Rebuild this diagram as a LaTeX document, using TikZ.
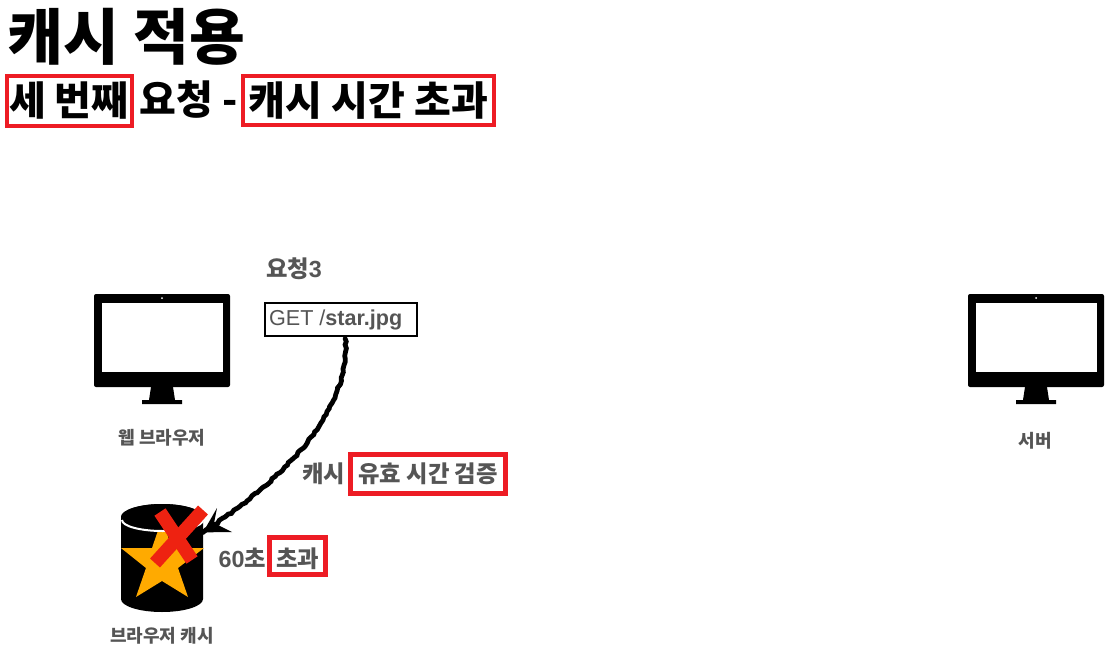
\documentclass[tikz,border=0pt]{standalone}
\usepackage{fontspec}
\usetikzlibrary{decorations.pathmorphing}
\setmainfont{Liberation Sans}
\newfontfamily\kr{Noto Sans CJK KR}
\definecolor{redbox}{HTML}{ED1C24}
\definecolor{grayt}{HTML}{555555}
\definecolor{starc}{HTML}{FFAA00}
\definecolor{crossc}{HTML}{EE2211}
\tikzset{
 txt/.style={inner sep=0pt,outer sep=0pt,anchor=center},
 head1/.style={txt,font=\kr\bfseries\fontsize{45.5}{50}\selectfont,text=black},
 head2/.style={txt,font=\kr\bfseries\fontsize{30}{36}\selectfont,text=black},
 lab/.style={txt,font=\kr\bfseries\fontsize{17.5}{20}\selectfont,text=grayt},
 lab2/.style={txt,font=\kr\bfseries\fontsize{13.5}{16}\selectfont,text=grayt},
 redframe/.style={draw=redbox,line width=3.4pt,inner sep=0pt,outer sep=0pt,anchor=center},
 reqbox/.style={draw=black,line width=1.6pt,inner sep=0pt,outer sep=0pt,anchor=center,fill=white,text=grayt,font=\fontsize{16.2}{20}\selectfont},
 ghost/.style={inner sep=0pt,outer sep=0pt,anchor=center},
 sketch/.style={draw=black,line width=3.6pt,line cap=round,decorate,decoration={random steps,segment length=2.5pt,amplitude=0.7pt}},
 crossline/.style={draw=crossc,line width=10pt},
}
\newcommand{\monitor}[1]{%
 \begin{scope}[xshift=#1*0.75pt]
 \fill[black,rounded corners=1.5pt] (94,294) rectangle (230,387);
 \fill[white] (102,303) rectangle (223,372);
 \fill[white] (162,298) circle (1);
 \fill[black] (151,387) -- (173,387) -- (175,400) -- (182,400) -- (182,404) -- (142,404) -- (142,400) -- (149,400) -- cycle;
 \end{scope}}
\begin{document}
\begin{tikzpicture}[x=0.75pt,y=-0.75pt]
\useasboundingbox (0,0) rectangle (1111,650);
\fill[white] (0,0) rectangle (1111,650);
% titles
\node[head1] (title) at (126.5,37) {캐시 적용};
\node[redframe,head2,minimum width=125pt*0.75,minimum height=50pt*0.75] (r1) at (69.5,101) {\hspace{-1pt}세 번째};
\node[head2] (sub) at (189,99) {요청 -};
\node[redframe,head2,minimum width=251pt*0.75,minimum height=49pt*0.75] (r2) at (368.5,100.5) {캐시 시간 초과};
% computers
\monitor{0}
\monitor{874}
\node[ghost,minimum width=102pt,minimum height=82pt] (browser) at (162,349) {};
\node[ghost,minimum width=102pt,minimum height=82pt] (server) at (1036,349) {};
\node[lab2] (lb) at (162,438) {웹 브라우저};
\node[lab2] (ls) at (1035,441) {서버};
% request
\node[lab,anchor=west] (req) at (266,269) {요청\textbf{\rmfamily 3}};
\node[reqbox,minimum width=152pt*0.75,minimum height=33pt*0.75] (get) at (341,319.5) {GET /\textbf{star.jpg}\hspace{8pt}\null};
% cache
\fill[black] (121,517) arc[x radius=41,y radius=13,start angle=180,end angle=360] -- (203,599) arc[x radius=41,y radius=13,start angle=0,end angle=180] -- cycle;
\fill[starc] (162,519) -- (172,548) -- (204,548) -- (178,568) -- (188,597) -- (162,581) -- (136,597) -- (146,568) -- (121,548) -- (152,548) -- cycle;
\fill[black] (162,517.5) ellipse[x radius=41,y radius=13.5];
\draw[white,line width=1.5pt] (122,520) arc[x radius=40.5,y radius=11,start angle=180,end angle=0];
\draw[crossline] (160,512) -- (192,560);
\draw[crossline] (203,510) -- (155,563);
\node[ghost,minimum width=61.5pt,minimum height=81pt] (cache) at (162,558) {};
\node[lab2] (lc) at (162,636) {브라우저 캐시};
% connector
\path[sketch] ([yshift=-2pt]get.-76) .. controls (350,400) and (305,465) .. (cache.32);
\fill[black] (cache.32) -- (217,508) -- (214,523) -- (232,532) -- cycle;
% labels
\node[lab,anchor=east] (l1) at (345,474) {캐시};
\node[redframe,lab,minimum width=155pt*0.75,minimum height=39pt*0.75] (r3) at (428,474) {유효 시간 검증};
\node[lab,anchor=east] (l2) at (266,558) {\textbf{\rmfamily 60}초};
\node[redframe,lab,minimum width=56pt*0.75,minimum height=37pt*0.75] (r4) at (297.5,556) {\raisebox{-2pt}[\height][\depth]{초과}};
\end{tikzpicture}
\end{document}
